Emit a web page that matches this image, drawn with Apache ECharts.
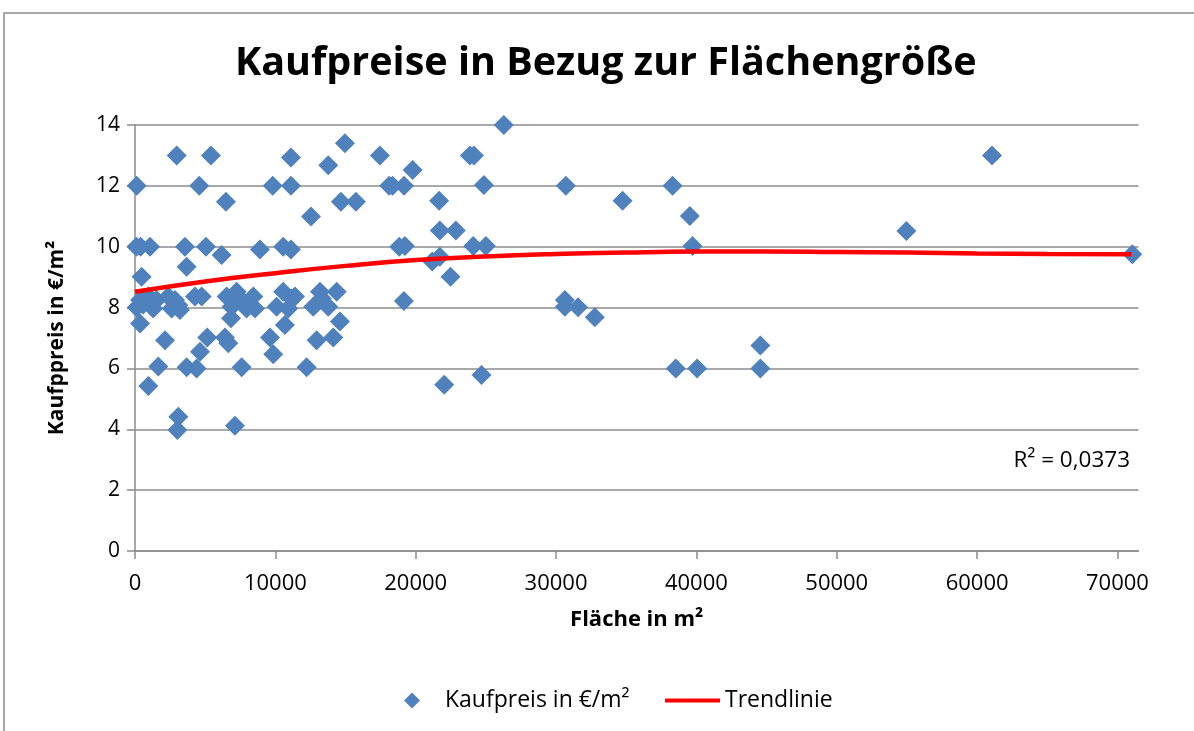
<!DOCTYPE html>
<html><head><meta charset="utf-8">
<script src="https://cdn.jsdelivr.net/npm/echarts@6/dist/echarts.min.js"></script>
<style>html,body{margin:0;padding:0;background:#fff}#c{width:1194px;height:731px}</style>
</head><body><div id="c"></div>
<script>
// Scatter data: [Fläche in m², Kaufpreis in €/m²]
const flaeche = [120,2970,5410,11110,14960,13770,17450,4580,9810,11110,18110,18350,19170,6480,12540,14670,15740,
  100,400,1070,3560,5060,8900,10560,11110,6170,3680,470,18830,
  360,2140,1660,950,3090,3020,3680,4390,4630,5150,6410,6650,7600,7120,6840,9620,9850,10680,12230,12940,14130,14600,
  120,360,590,950,1300,1540,2370,2610,2850,3090,3200,4270,4750,6530,6880,7240,7600,7950,8430,8550,10090,10560,10920,11160,11400,12700,13180,13300,13770,14370,
  19780,21670,24860,23860,24150,26280,30700,34740,19230,21720,22860,21180,21720,22480,24100,25000,19160,
  30630,30630,31570,32760,24690,22030,38300,39530,39720,38530,40050,44560,44560,61060,54960,71060];
const preis = [12.0,13.0,13.0,12.93,13.4,12.68,13.0,12.0,12.0,12.0,12.0,12.0,12.0,11.48,10.99,11.48,11.48,
  10.0,10.0,10.0,10.0,10.0,9.91,10.0,9.91,9.73,9.34,9.01,10.0,
  7.48,6.93,6.06,5.42,4.41,3.98,6.04,6.0,6.55,7.02,7.02,6.83,6.04,4.12,7.65,7.02,6.47,7.43,6.04,6.93,7.02,7.54,
  8.0,8.25,8.1,8.36,7.97,8.25,8.36,7.97,8.25,8.08,7.92,8.36,8.36,8.36,8.03,8.52,8.25,7.97,8.36,7.97,8.03,8.52,7.97,8.3,8.36,8.03,8.52,8.3,8.03,8.52,
  12.52,11.51,12.03,13.0,13.0,14.0,12.0,11.51,10.02,10.53,10.53,9.51,9.67,9.01,10.02,10.02,8.22,
  8.25,8.03,8.01,7.68,5.78,5.46,12.0,11.01,10.02,6.0,6.0,6.0,6.75,13.0,10.52,9.75];
// Trendline
const trendX = [0,5000,10000,15000,20000,25000,30000,35000,40000,45000,50000,55000,60000,65000,71000];
const trendY = [8.52,8.86,9.13,9.37,9.56,9.68,9.76,9.81,9.84,9.845,9.83,9.81,9.78,9.76,9.75];
const xTicks = [0,10000,20000,30000,40000,50000,60000,70000];

const FONT = '"Open Sans", sans-serif';
const GRID = '#8c8c8c';
const chart = echarts.init(document.getElementById('c'), null, {renderer:'canvas'});
chart.setOption({
  backgroundColor:'#fff',
  animation:false,
  title:{text:'Kaufpreise in Bezug zur Flächengröße',left:235,top:44,padding:0,
    textStyle:{fontFamily:FONT,fontWeight:'bold',fontSize:39.5,color:'#000'}},
  grid:{left:135,right:55.5,top:125,bottom:180},
  legend:[
    {data:[{name:'Kaufpreis in €/m²',icon:'diamond'}],left:404,top:689,padding:0,itemWidth:16,itemHeight:16,
     textStyle:{fontFamily:FONT,fontSize:23,color:'#000',padding:[0,0,0,20]}},
    {data:[{name:'Trendlinie',icon:'rect'}],left:665,top:689,padding:0,itemWidth:55,itemHeight:4,itemGap:0,
     itemStyle:{color:'#FF0000'},
     textStyle:{fontFamily:FONT,fontSize:23,color:'#000',padding:[0,0,0,0]}}
  ],
  xAxis:{type:'value',min:0,max:71500,interval:10000,
    name:'Fläche in m²',nameLocation:'middle',nameGap:58,
    nameTextStyle:{fontFamily:FONT,fontWeight:'bold',fontSize:22,color:'#000'},
    axisLine:{show:true,lineStyle:{color:GRID,width:1.5}},
    axisTick:{show:true,length:8,lineStyle:{color:GRID,width:1.5},customValues:xTicks},
    axisLabel:{fontFamily:FONT,fontSize:22,color:'#000',margin:22,customValues:xTicks,
      formatter:v=>String(v)},
    splitLine:{show:false}},
  yAxis:{type:'value',min:0,max:14,interval:2,
    name:'Kaufppreis in €/m²',nameLocation:'middle',nameGap:67,
    nameTextStyle:{fontFamily:FONT,fontWeight:'bold',fontSize:21,color:'#000'},
    axisLine:{show:true,lineStyle:{color:GRID,width:1.5}},
    axisTick:{show:true,length:8,lineStyle:{color:GRID,width:1.5}},
    axisLabel:{fontFamily:FONT,fontSize:21,color:'#000',margin:15},
    splitLine:{show:true,lineStyle:{color:GRID,width:1.5}}},
  series:[
    {name:'Kaufpreis in €/m²',type:'scatter',symbol:'diamond',symbolSize:20,
     itemStyle:{color:'#4F81BD',opacity:1},
     data:flaeche.map((x,i)=>[x,preis[i]]),z:2},
    {name:'Trendlinie',type:'line',smooth:true,symbol:'none',
     lineStyle:{color:'#FF0000',width:4.5},itemStyle:{color:'#FF0000'},
     data:trendX.map((x,i)=>[x,trendY[i]]),z:3}
  ],
  graphic:[
    {type:'rect',shape:{x:4,y:13,width:1250,height:800},style:{fill:'none',stroke:'#8c8c8c',lineWidth:1.5},silent:true},
    {type:'text',right:64,top:449,style:{text:'R² = 0,0373',font:'22.5px '+FONT,fill:'#000'}}
  ]
});
</script></body></html>
